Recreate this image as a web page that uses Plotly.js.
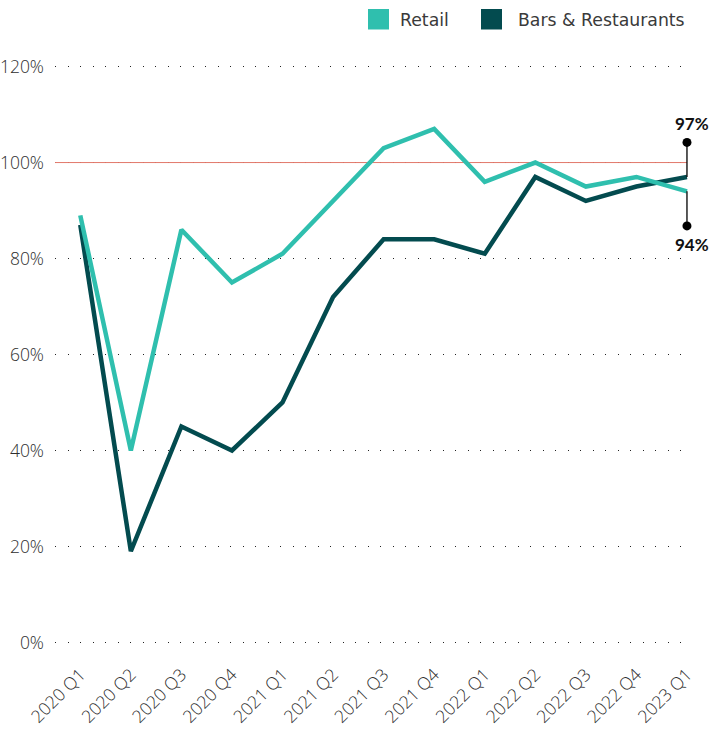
<!DOCTYPE html>
<html>
<head>
<meta charset="utf-8">
<script src="https://cdn.plot.ly/plotly-3.0.1.min.js"></script>
<style>html,body{margin:0;padding:0;background:#fff;}#chart{width:710px;height:730px;}</style>
</head>
<body>
<div id="chart"></div>
<script>
const quarters = ["2020 Q1","2020 Q2","2020 Q3","2020 Q4","2021 Q1","2021 Q2","2021 Q3","2021 Q4","2022 Q1","2022 Q2","2022 Q3","2022 Q4","2023 Q1"];
const retail = [89, 40, 86, 75, 81, 92, 103, 107, 96, 100, 95, 97, 94];
const bars = [87, 19, 45, 40, 50, 72, 84, 84, 81, 97, 92, 95, 97];
const yTicks = [0, 20, 40, 60, 80, 100, 120];
const yTickText = ["0%","20%","40%","60%","80%","100%","120%"];
const seriesNames = ["Retail", "Bars & Restaurants"];
const labelHigh = "97%";
const labelLow = "94%";

const teal = "#2fbfae";
const dark = "#034b4f";
const last = quarters.length - 1;
const xIdx = quarters.map((q,i)=>i);

const W = 710, H = 730;
const M = {l: 55, r: 20, t: 57, b: 78};
const px2x = p => (p - M.l) / (W - M.l - M.r);
const px2y = p => (H - M.b - p) / (H - M.t - M.b);

const tickFont = {size: 17.5, color: "#2e2e2e", family: "'Open Sans', sans-serif", weight: 300};

const traces = [
  {x: xIdx, y: bars, type: "scatter", mode: "lines", name: seriesNames[1], line: {color: dark, width: 4.5}, showlegend: false, hoverinfo: "skip", cliponaxis: false},
  {x: xIdx, y: retail, type: "scatter", mode: "lines", name: seriesNames[0], line: {color: teal, width: 4.5}, showlegend: false, hoverinfo: "skip", cliponaxis: false},
  {x: [last, last], y: [bars[last] + 7.2, retail[last] - 7.2], type: "scatter", mode: "markers", marker: {color: "#000", size: 9}, showlegend: false, hoverinfo: "skip", cliponaxis: false}
];

// manual legend (squares + labels)
const legendItems = [
  {name: seriesNames[0], color: teal, sq: 368, tx: 398},
  {name: seriesNames[1], color: dark, sq: 481, tx: 516}
];
const legendShapes = legendItems.map(it => ({
  type: "rect", xref: "paper", yref: "paper",
  x0: px2x(it.sq), x1: px2x(it.sq + 21), y0: px2y(29.5), y1: px2y(9),
  fillcolor: it.color, line: {width: 0}
}));
const legendAnn = legendItems.map(it => ({
  xref: "paper", yref: "paper", x: px2x(it.tx), y: px2y(19.5), xanchor: "left", yanchor: "middle",
  text: it.name, showarrow: false, font: {size: 17.3, family: "'DejaVu Sans', sans-serif", color: "#3a3a3a"}
}));

const layout = {
  width: W, height: H,
  margin: {l: M.l, r: M.r, t: M.t, b: M.b, autoexpand: false},
  paper_bgcolor: "#fff", plot_bgcolor: "#fff",
  font: {family: "Lato, 'Open Sans', sans-serif", color: "#333"},
  showlegend: false,
  xaxis: {
    range: [-0.5, 12.06], tickmode: "array", tickvals: xIdx, ticktext: quarters,
    tickangle: -45, showgrid: false, zeroline: false, showline: false, ticks: "", ticklabelstandoff: 8,
    tickfont: tickFont, fixedrange: true, automargin: false
  },
  yaxis: {
    range: [-2, 122], tickmode: "array", tickvals: yTicks, ticktext: yTickText,
    showgrid: true, gridcolor: "#222", gridwidth: 1.2, griddash: "1px,11.5px",
    zeroline: false, showline: false, ticks: "", ticklabelstandoff: 10,
    tickfont: tickFont, fixedrange: true, automargin: false
  },
  shapes: [
    {type: "rect", xref: "paper", yref: "y", x0: 0, x1: 1, y0: 99, y1: 101, fillcolor: "#fff", line: {width: 0}, layer: "between"},
    {type: "line", xref: "x", yref: "y", x0: -0.5, x1: last, y0: 100, y1: 100, line: {color: "#e2786a", width: 1}, layer: "between"},
    {type: "line", xref: "x", yref: "y", x0: last, x1: last, y0: bars[last], y1: bars[last] + 7.2, line: {color: "#000", width: 1.3}},
    {type: "line", xref: "x", yref: "y", x0: last, x1: last, y0: retail[last], y1: retail[last] - 7.2, line: {color: "#000", width: 1.3}}
  ].concat(legendShapes),
  annotations: [
    {xref: "x", yref: "y", x: last, y: bars[last] + 7.2, text: "<b>" + labelHigh + "</b>", showarrow: false, yanchor: "bottom", yshift: 6, xshift: 5, font: {size: 17, color: "#111", family: "Lato, sans-serif"}},
    {xref: "x", yref: "y", x: last, y: retail[last] - 7.2, text: "<b>" + labelLow + "</b>", showarrow: false, yanchor: "top", yshift: -6, xshift: 5, font: {size: 17, color: "#111", family: "Lato, sans-serif"}}
  ].concat(legendAnn)
};

Plotly.newPlot("chart", traces, layout, {displayModeBar: false, staticPlot: true});
</script>
</body>
</html>
